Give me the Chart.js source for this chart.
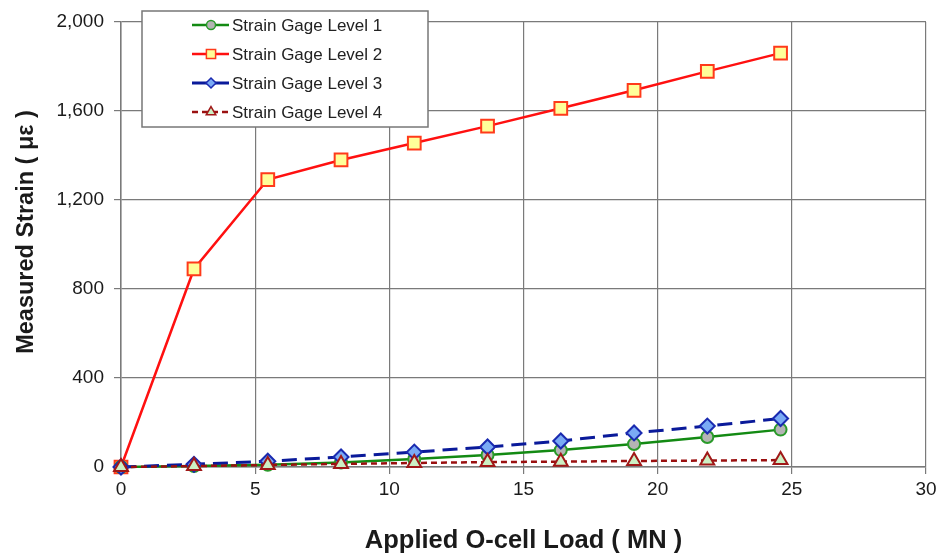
<!DOCTYPE html>
<html>
<head>
<meta charset="utf-8">
<script src="https://cdn.jsdelivr.net/npm/chart.js@4/dist/chart.umd.min.js"></script>
<style>
html,body{margin:0;padding:0;background:#fff;}
#wrap{position:relative;width:938px;height:554px;}
</style>
</head>
<body>
<div id="wrap"><canvas id="c" width="938" height="554"></canvas></div>
<script>
const loadMN = [0, 2.72, 5.47, 8.2, 10.93, 13.66, 16.39, 19.12, 21.85, 24.58];
const level1 = [0, 4, 10, 20, 36, 54, 76, 103, 135, 168];
const level2 = [0, 890, 1292, 1380, 1456, 1532, 1612, 1693, 1778, 1860];
const level3 = [0, 12, 26, 45, 67, 90, 117, 153, 184, 218];
const level4 = [0, 4, 9, 14, 18, 22, 24, 27, 29, 31];
const seriesNames = ['Strain Gage Level 1', 'Strain Gage Level 2', 'Strain Gage Level 3', 'Strain Gage Level 4'];
const xTicks = [0, 5, 10, 15, 20, 25, 30];
const yTicks = [0, 400, 800, 1200, 1600, 2000];
const xTitle = 'Applied O-cell Load ( MN )';
const yTitle = 'Measured Strain ( \u03BC\u03B5 )';

const pts = arr => arr.map((v, i) => ({x: loadMN[i], y: v}));
const FONT = "'Liberation Sans', Arial, sans-serif";

const datasets = [
  {label: seriesNames[0], data: pts(level1), borderColor: '#138a13', borderWidth: 2.5,
   pointStyle: 'circle', pointRadius: 6, pointBackgroundColor: '#b4b4b4', pointBorderColor: '#2a9a2a', pointBorderWidth: 2, order: 3, legendR: 4.5},
  {label: seriesNames[1], data: pts(level2), borderColor: '#ff1010', borderWidth: 2.5,
   pointStyle: 'rect', pointRadius: 9, pointBackgroundColor: '#ffff99', pointBorderColor: '#ff3a1a', pointBorderWidth: 2, order: 4, legendR: 6.5},
  {label: seriesNames[2], data: pts(level3), borderColor: '#0a1a9a', borderWidth: 3, borderDash: [15, 8],
   pointStyle: 'rectRot', pointRadius: 7.5, pointBackgroundColor: '#7aaaf5', pointBorderColor: '#1a2ab0', pointBorderWidth: 2, order: 2, legendR: 5},
  {label: seriesNames[3], data: pts(level4), borderColor: '#9a1010', borderWidth: 2.5, borderDash: [6, 4],
   pointStyle: 'triangle', pointRadius: 8, pointBackgroundColor: '#ccf0c4', pointBorderColor: '#a01818', pointBorderWidth: 2, order: 1, legendR: 5.5}
];
datasets.forEach(d => { d.fill = false; d.tension = 0; d.showLine = true; d.clip = false; });

const legendPlugin = {
  id: 'boxLegend',
  afterDraw(chart) {
    const ctx = chart.ctx;
    // y-axis title (placed like the reference, slightly above the axis centre)
    ctx.save();
    ctx.translate(27, 232);
    ctx.rotate(-Math.PI / 2);
    ctx.fillStyle = '#1a1a1a';
    ctx.font = 'bold 23.5px ' + FONT;
    ctx.textAlign = 'center';
    ctx.textBaseline = 'middle';
    ctx.fillText(yTitle, 0, 0);
    ctx.restore();

    const bx = 142, by = 11, bw = 286, bh = 116;
    ctx.save();
    ctx.fillStyle = '#fff';
    ctx.fillRect(bx, by, bw, bh);
    ctx.strokeStyle = '#777';
    ctx.lineWidth = 1.5;
    ctx.strokeRect(bx, by, bw, bh);
    const rows = [25, 54, 83, 112];
    chart.data.datasets.forEach((d, i) => {
      const y = rows[i];
      ctx.save();
      ctx.strokeStyle = d.borderColor;
      ctx.lineWidth = d.borderWidth;
      ctx.setLineDash(d.borderDash || []);
      ctx.beginPath();
      ctx.moveTo(192, y);
      ctx.lineTo(229, y);
      ctx.stroke();
      ctx.setLineDash([]);
      ctx.fillStyle = d.pointBackgroundColor;
      ctx.strokeStyle = d.pointBorderColor;
      ctx.lineWidth = 1.5;
      Chart.helpers.drawPoint(ctx, {pointStyle: d.pointStyle, radius: d.legendR, borderWidth: 1.5, rotation: 0}, 211, y);
      ctx.restore();
      ctx.fillStyle = '#222';
      ctx.font = '17px ' + FONT;
      ctx.textBaseline = 'middle';
      ctx.textAlign = 'left';
      ctx.fillText(d.label, 232, y + 1);
    });
    ctx.restore();
  }
};

new Chart(document.getElementById('c'), {
  type: 'scatter',
  data: {datasets},
  plugins: [legendPlugin],
  options: {
    responsive: false,
    animation: false,
    layout: {padding: {top: 22, right: 12, left: 0, bottom: 0}},
    plugins: {legend: {display: false}, tooltip: {enabled: false}},
    scales: {
      x: {
        type: 'linear', min: 0, max: 30,
        afterBuildTicks: s => { s.ticks = xTicks.map(v => ({value: v})); },
        afterFit: s => { s.height = 87; s.paddingRight = 0; s.paddingLeft = 0; },
        grid: {color: '#7a7a7a', lineWidth: 1.2, tickLength: 7, tickColor: '#7a7a7a'},
        border: {color: '#7a7a7a', width: 1.5},
        ticks: {color: '#1a1a1a', font: {family: FONT, size: 19}, padding: 4, maxRotation: 0},
        title: {display: true, text: xTitle, color: '#1a1a1a', font: {family: FONT, size: 25.5, weight: 'bold'}, padding: {top: 0, bottom: -2}}
      },
      y: {
        type: 'linear', min: 0, max: 2000,
        afterBuildTicks: s => { s.ticks = yTicks.map(v => ({value: v})); },
        afterFit: s => { s.width = 121; s.paddingTop = 0; s.paddingBottom = 0; },
        grid: {color: '#7a7a7a', lineWidth: 1.2, tickLength: 7, tickColor: '#7a7a7a'},
        border: {color: '#7a7a7a', width: 1.5},
        ticks: {color: '#1a1a1a', font: {family: FONT, size: 19}, padding: 10,
          callback: v => Number(v).toLocaleString('en-US')},
        title: {display: false}
      }
    }
  }
});
</script>
</body>
</html>
